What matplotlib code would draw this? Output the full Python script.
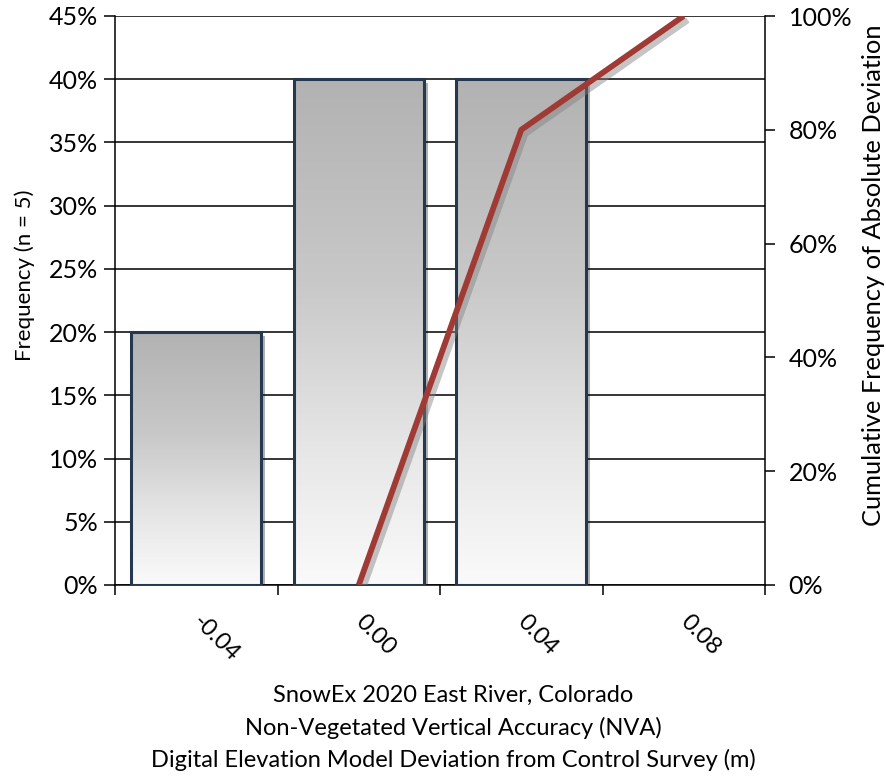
import numpy as np
import matplotlib
matplotlib.use("Agg")
import matplotlib.pyplot as plt
import matplotlib.patheffects as pe
from matplotlib.colors import LinearSegmentedColormap
from matplotlib.ticker import PercentFormatter, FixedLocator, NullFormatter

plt.rcParams['font.family'] = ['Lato', 'DejaVu Sans']

# Data
categories = ["-0.04", "0.00", "0.04", "0.08"]
frequency = [0.20, 0.40, 0.40, 0.0]
cumulative = [np.nan, 0.0, 0.80, 1.00]

W, H = 886, 780
fig = plt.figure(figsize=(W / 100, H / 100), dpi=100)
ax = fig.add_axes([115 / W, 1 - 585 / H, 650 / W, 569 / H])

x = np.arange(len(categories))
bar_w = 0.8

# Grid lines behind bars
ax.set_axisbelow(True)
ax.yaxis.grid(True, color='black', linewidth=1.1)

grad_cmap = LinearSegmentedColormap.from_list(
    "barfill", [(0.0, "#fafafa"), (0.25, "#e8e8e8"), (0.6, "#c8c8c8"), (1.0, "#b2b2b2")])

# Soft drop shadow under each bar
shadow = ax.bar(x, frequency, width=bar_w, facecolor='white', edgecolor='none',
                zorder=2)
for b in shadow:
    if b.get_height() <= 0:
        b.set_visible(False)
    b.set_path_effects([pe.SimplePatchShadow(offset=(3, -3), shadow_rgbFace='black', alpha=0.3),
                        pe.Normal()])

# Gradient fill clipped to each bar
for b in shadow:
    h = b.get_height()
    if h <= 0:
        continue
    x0 = b.get_x()
    grad = np.linspace(0, 1, 256).reshape(-1, 1)
    im = ax.imshow(grad, cmap=grad_cmap, origin='lower', aspect='auto',
                   extent=(x0, x0 + b.get_width(), 0, h), zorder=2.5,
                   interpolation='bicubic')
    im.set_clip_path(b)

# Bar outlines
bars = ax.bar(x, frequency, width=bar_w, facecolor='none', edgecolor='#26384f',
              linewidth=2.2, zorder=3)
for b in bars:
    if b.get_height() <= 0:
        b.set_visible(False)

ax.set_xlim(-0.5, len(categories) - 0.5)
ax.set_ylim(0, 0.45)
ax.yaxis.set_major_locator(FixedLocator(np.arange(0, 0.451, 0.05)))
ax.yaxis.set_major_formatter(PercentFormatter(1.0, decimals=0))

# Category boundaries get the tick marks; centres carry the labels
ax.xaxis.set_major_locator(FixedLocator(np.arange(-0.5, len(categories), 1.0)))
ax.xaxis.set_major_formatter(NullFormatter())
ax.set_xticks(x, minor=True)
ax.set_xticklabels(categories, minor=True, rotation=-45, ha='left', va='center',
                   rotation_mode='anchor', fontsize=17)
ax.tick_params(axis='x', which='minor', length=0, pad=24)
ax.tick_params(axis='x', which='major', length=7, width=1.1, direction='out')
ax.tick_params(axis='y', which='major', length=8, width=1.1, direction='out',
               labelsize=18, pad=4)

for s in ['top', 'right']:
    ax.spines[s].set_visible(False)
for s in ['left', 'bottom']:
    ax.spines[s].set_linewidth(1.1)

ax.set_ylabel("Frequency (n = 5)", fontsize=16)
ax.yaxis.set_label_coords(-0.123, 0.545)
ax.set_xlabel("SnowEx 2020 East River, Colorado\n"
              "Non-Vegetated Vertical Accuracy (NVA)\n"
              "Digital Elevation Model Deviation from Control Survey (m)",
              fontsize=17, linespacing=1.6)
ax.xaxis.set_label_coords(0.52, -0.175)

# Cumulative curve on the secondary axis
ax2 = ax.twinx()
ax2.plot(x, cumulative, color='#a03a34', linewidth=4.2, solid_capstyle='butt',
         path_effects=[pe.SimpleLineShadow(offset=(3, -3), shadow_color='gray', alpha=0.45),
                       pe.Normal()], zorder=5)
ax2.set_ylim(0, 1.0)
ax2.yaxis.set_major_locator(FixedLocator(np.arange(0, 1.01, 0.2)))
ax2.yaxis.set_major_formatter(PercentFormatter(1.0, decimals=0))
ax2.tick_params(axis='y', length=7, width=1.1, direction='out', labelsize=18, pad=10)
for s in ['top', 'left', 'bottom']:
    ax2.spines[s].set_visible(False)
ax2.spines['right'].set_linewidth(1.1)
ax2.set_ylabel("Cumulative Frequency of Absolute Deviation", fontsize=18.3)
ax2.yaxis.set_label_coords(1.149, 0.545)

fig.savefig("out.png", dpi=100)
